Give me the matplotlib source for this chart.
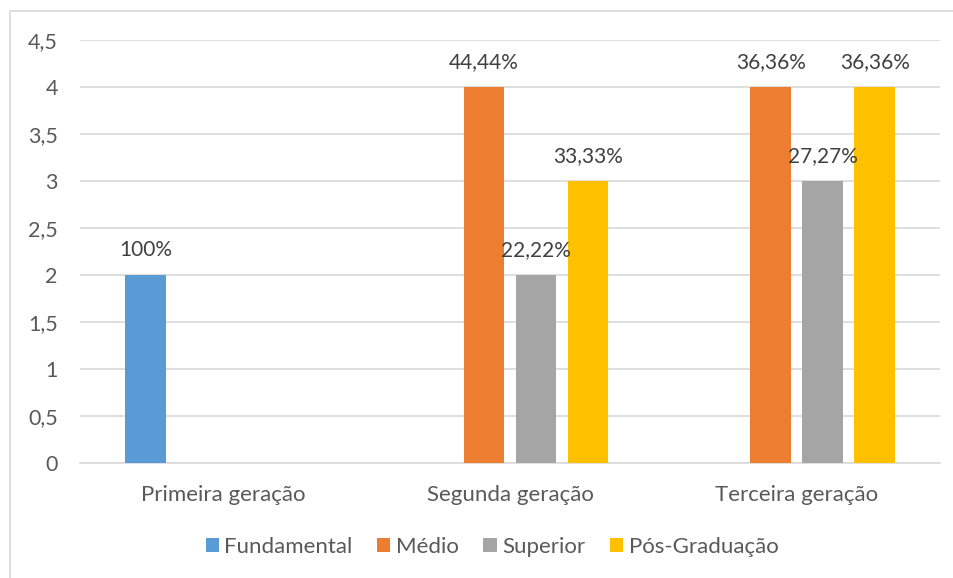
import numpy as np
import matplotlib.pyplot as plt
from matplotlib.patches import Rectangle

plt.rcParams['font.family'] = ['Lato', 'DejaVu Sans']

categories = ["Primeira geração", "Segunda geração", "Terceira geração"]
series = ["Fundamental", "Médio", "Superior", "Pós-Graduação"]
colors = ["#5B9BD5", "#ED7D31", "#A5A5A5", "#FFC000"]
fundamental = [2, 0, 0]
medio = [0, 4, 4]
superior = [0, 2, 3]
pos_graduacao = [0, 3, 4]
labels_fundamental = ["100%", "", ""]
labels_medio = ["", "44,44%", "36,36%"]
labels_superior = ["", "22,22%", "27,27%"]
labels_pos = ["", "33,33%", "36,36%"]
y_ticks = [0, 0.5, 1, 1.5, 2, 2.5, 3, 3.5, 4, 4.5]

values = [fundamental, medio, superior, pos_graduacao]
bar_labels = [labels_fundamental, labels_medio, labels_superior, labels_pos]
text_color = "#595959"

fig = plt.figure(figsize=(9.54, 5.78), dpi=100)
fig.patches.append(Rectangle((10 / 954, -0.1), 1.2, 1.1 - 11 / 578, transform=fig.transFigure,
                             fill=False, edgecolor="#d9d9d9", linewidth=1.2))
ax = fig.add_axes([80 / 954, 1 - 463 / 578, 860 / 954, 423 / 578])

x = np.arange(len(categories))
step = 0.1814
width = 0.143
for i, (name, vals, col, labs) in enumerate(zip(series, values, colors, bar_labels)):
    pos = x + (i - 1.5) * step
    bars = ax.bar(pos, vals, width=width, color=col, label=name, zorder=3)
    for b, lab in zip(bars, labs):
        if lab:
            ax.text(b.get_x() + b.get_width() / 2, b.get_height() + 0.27, lab,
                    ha="center", va="center", fontsize=15, color="#404040", zorder=4)

ax.set_xlim(-0.5, 2.5)
ax.set_ylim(0, 4.5)
ax.set_yticks(y_ticks)
ax.set_yticklabels([("%g" % t).replace(".", ",") for t in y_ticks])
ax.set_xticks(x)
ax.set_xticklabels(categories)
ax.grid(axis="y", color="#d9d9d9", linewidth=1.2, zorder=0)
for s in ["top", "right", "left"]:
    ax.spines[s].set_visible(False)
ax.spines["bottom"].set_color("#d9d9d9")
ax.spines["bottom"].set_linewidth(1.2)
ax.tick_params(axis="y", length=0, labelsize=15.5, colors=text_color, pad=16)
ax.tick_params(axis="x", length=0, labelsize=16, colors=text_color, pad=16)

ax.legend(loc="center", bbox_to_anchor=(492 / 954, 1 - 547 / 578), bbox_transform=fig.transFigure,
          ncol=4, frameon=False, fontsize=16, handlelength=0.6, handleheight=0.6,
          handletextpad=0.25, columnspacing=1.1, labelcolor=text_color)

fig.savefig("out.png", dpi=100)
